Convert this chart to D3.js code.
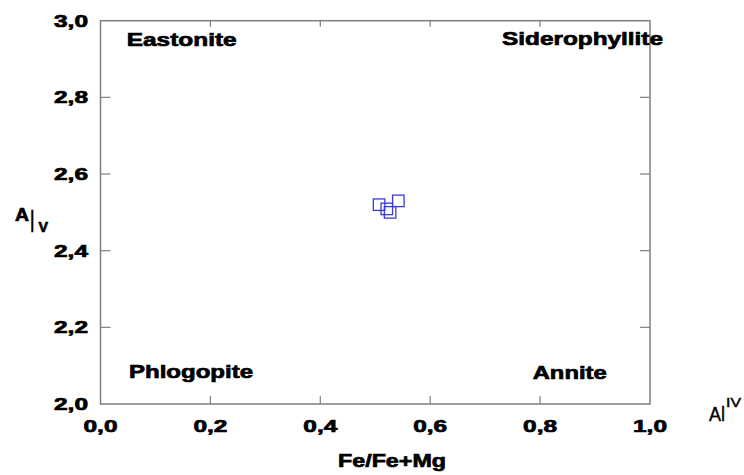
<!DOCTYPE html>
<html><head><meta charset="utf-8">
<script src="https://cdn.jsdelivr.net/npm/d3@7"></script>
<style>body{margin:0;background:#fff}svg{display:block}.hv{stroke:#000;stroke-width:0.7;paint-order:stroke}</style>
</head><body>
<svg id="c" width="744" height="475"></svg>
<script>
const xTicks = [0, 0.2, 0.4, 0.6, 0.8, 1.0];
const yTicks = [2.0, 2.2, 2.4, 2.6, 2.8, 3.0];
const xTickLabels = ["0,0", "0,2", "0,4", "0,6", "0,8", "1,0"];
const yTickLabels = ["2,0", "2,2", "2,4", "2,6", "2,8", "3,0"];
const feRatio = [0.507, 0.542, 0.521, 0.527];
const alIV = [2.520, 2.530, 2.509, 2.500];
const regionNames = ["Eastonite", "Siderophyllite", "Phlogopite", "Annite"];

(function () {
const svg = d3.select("#c");
const pL = 100.5, pR = 650, pT = 20.7, pB = 404;
const x = d3.scaleLinear().domain([0, 1]).range([pL, pR]);
const y = d3.scaleLinear().domain([2, 3]).range([pB, pT]);
const font = "'Liberation Sans', Arial, sans-serif";
const frame = "#7f7f7f";

svg.append("rect").attr("x", pL).attr("y", pT).attr("width", pR - pL).attr("height", pB - pT)
  .attr("fill", "none").attr("stroke", frame).attr("stroke-width", 1.5);

const inner = xTicks.slice(1, -1);
svg.append("g").selectAll("line").data(inner).join("line")
  .attr("x1", d => x(d)).attr("x2", d => x(d)).attr("y1", pB).attr("y2", pB - 8)
  .attr("stroke", frame).attr("stroke-width", 1.2);
svg.append("g").selectAll("line").data(inner).join("line")
  .attr("x1", d => x(d)).attr("x2", d => x(d)).attr("y1", pT).attr("y2", pT + 6)
  .attr("stroke", frame).attr("stroke-width", 1.2);
const innerY = yTicks.slice(1, -1);
svg.append("g").selectAll("line").data(innerY).join("line")
  .attr("x1", pL).attr("x2", pL + 10).attr("y1", d => y(d)).attr("y2", d => y(d))
  .attr("stroke", frame).attr("stroke-width", 1.2);
svg.append("g").selectAll("line").data(innerY).join("line")
  .attr("x1", pR).attr("x2", pR - 10).attr("y1", d => y(d)).attr("y2", d => y(d))
  .attr("stroke", frame).attr("stroke-width", 1.2);

svg.append("g").selectAll("text").data(yTicks).join("text").attr("class", "hv")
  .attr("x", 88).attr("y", d => y(d) + 6).attr("text-anchor", "end")
  .attr("font-family", font).attr("font-weight", "bold").attr("font-size", 17)
  .attr("textLength", 34).attr("lengthAdjust", "spacingAndGlyphs")
  .text((d, i) => yTickLabels[i]);
svg.append("g").selectAll("text").data(xTicks).join("text").attr("class", "hv")
  .attr("x", d => x(d) - 17).attr("y", 432)
  .attr("font-family", font).attr("font-weight", "bold").attr("font-size", 17)
  .attr("textLength", 34).attr("lengthAdjust", "spacingAndGlyphs")
  .text((d, i) => xTickLabels[i]);

const regionPos = [[126.7, 46, 110], [502, 45, 161], [129, 378, 124], [532.7, 379, 74]];
svg.append("g").selectAll("text").data(regionNames).join("text").attr("class", "hv")
  .attr("x", (d, i) => regionPos[i][0]).attr("y", (d, i) => regionPos[i][1])
  .attr("font-family", font).attr("font-weight", "bold").attr("font-size", 19)
  .attr("textLength", (d, i) => regionPos[i][2]).attr("lengthAdjust", "spacingAndGlyphs")
  .text(d => d);

svg.append("text").attr("class", "hv").attr("x", 338).attr("y", 467)
  .attr("font-family", font).attr("font-weight", "bold").attr("font-size", 19)
  .attr("textLength", 108).attr("lengthAdjust", "spacingAndGlyphs").text("Fe/Fe+Mg");

const alr = svg.append("text").attr("font-family", font).attr("font-size", 20).attr("fill", "#000")
  .attr("stroke", "#000").attr("stroke-width", 0.4);
alr.append("tspan").attr("x", 709).attr("y", 421).attr("textLength", 16).attr("lengthAdjust", "spacingAndGlyphs").text("Al");
alr.append("tspan").attr("x", 726).attr("y", 407).attr("font-size", 12).attr("textLength", 15).attr("lengthAdjust", "spacingAndGlyphs").text("IV");

svg.append("text").attr("class", "hv").attr("font-family", font).attr("font-weight", "bold")
  .attr("x", 15).attr("y", 221).attr("font-size", 18).attr("textLength", 14).attr("lengthAdjust", "spacingAndGlyphs").text("A");
svg.append("text").attr("class", "hv").attr("font-family", font).attr("font-weight", "bold")
  .attr("x", 30.5).attr("y", 232).attr("font-size", 30).attr("textLength", 3.5).attr("lengthAdjust", "spacingAndGlyphs").text("l");
svg.append("text").attr("class", "hv").attr("font-family", font).attr("font-weight", "bold")
  .attr("x", 38.5).attr("y", 232).attr("font-size", 14).attr("textLength", 9.5).attr("lengthAdjust", "spacingAndGlyphs").text("V");

const s = 11.5;
svg.append("g").selectAll("rect").data(feRatio).join("rect")
  .attr("x", d => x(d) - s / 2).attr("y", (d, i) => y(alIV[i]) - s / 2)
  .attr("width", s).attr("height", s)
  .attr("fill", "none").attr("stroke", "#3a3ad8").attr("stroke-width", 1.3);
})();
</script>
</body></html>
